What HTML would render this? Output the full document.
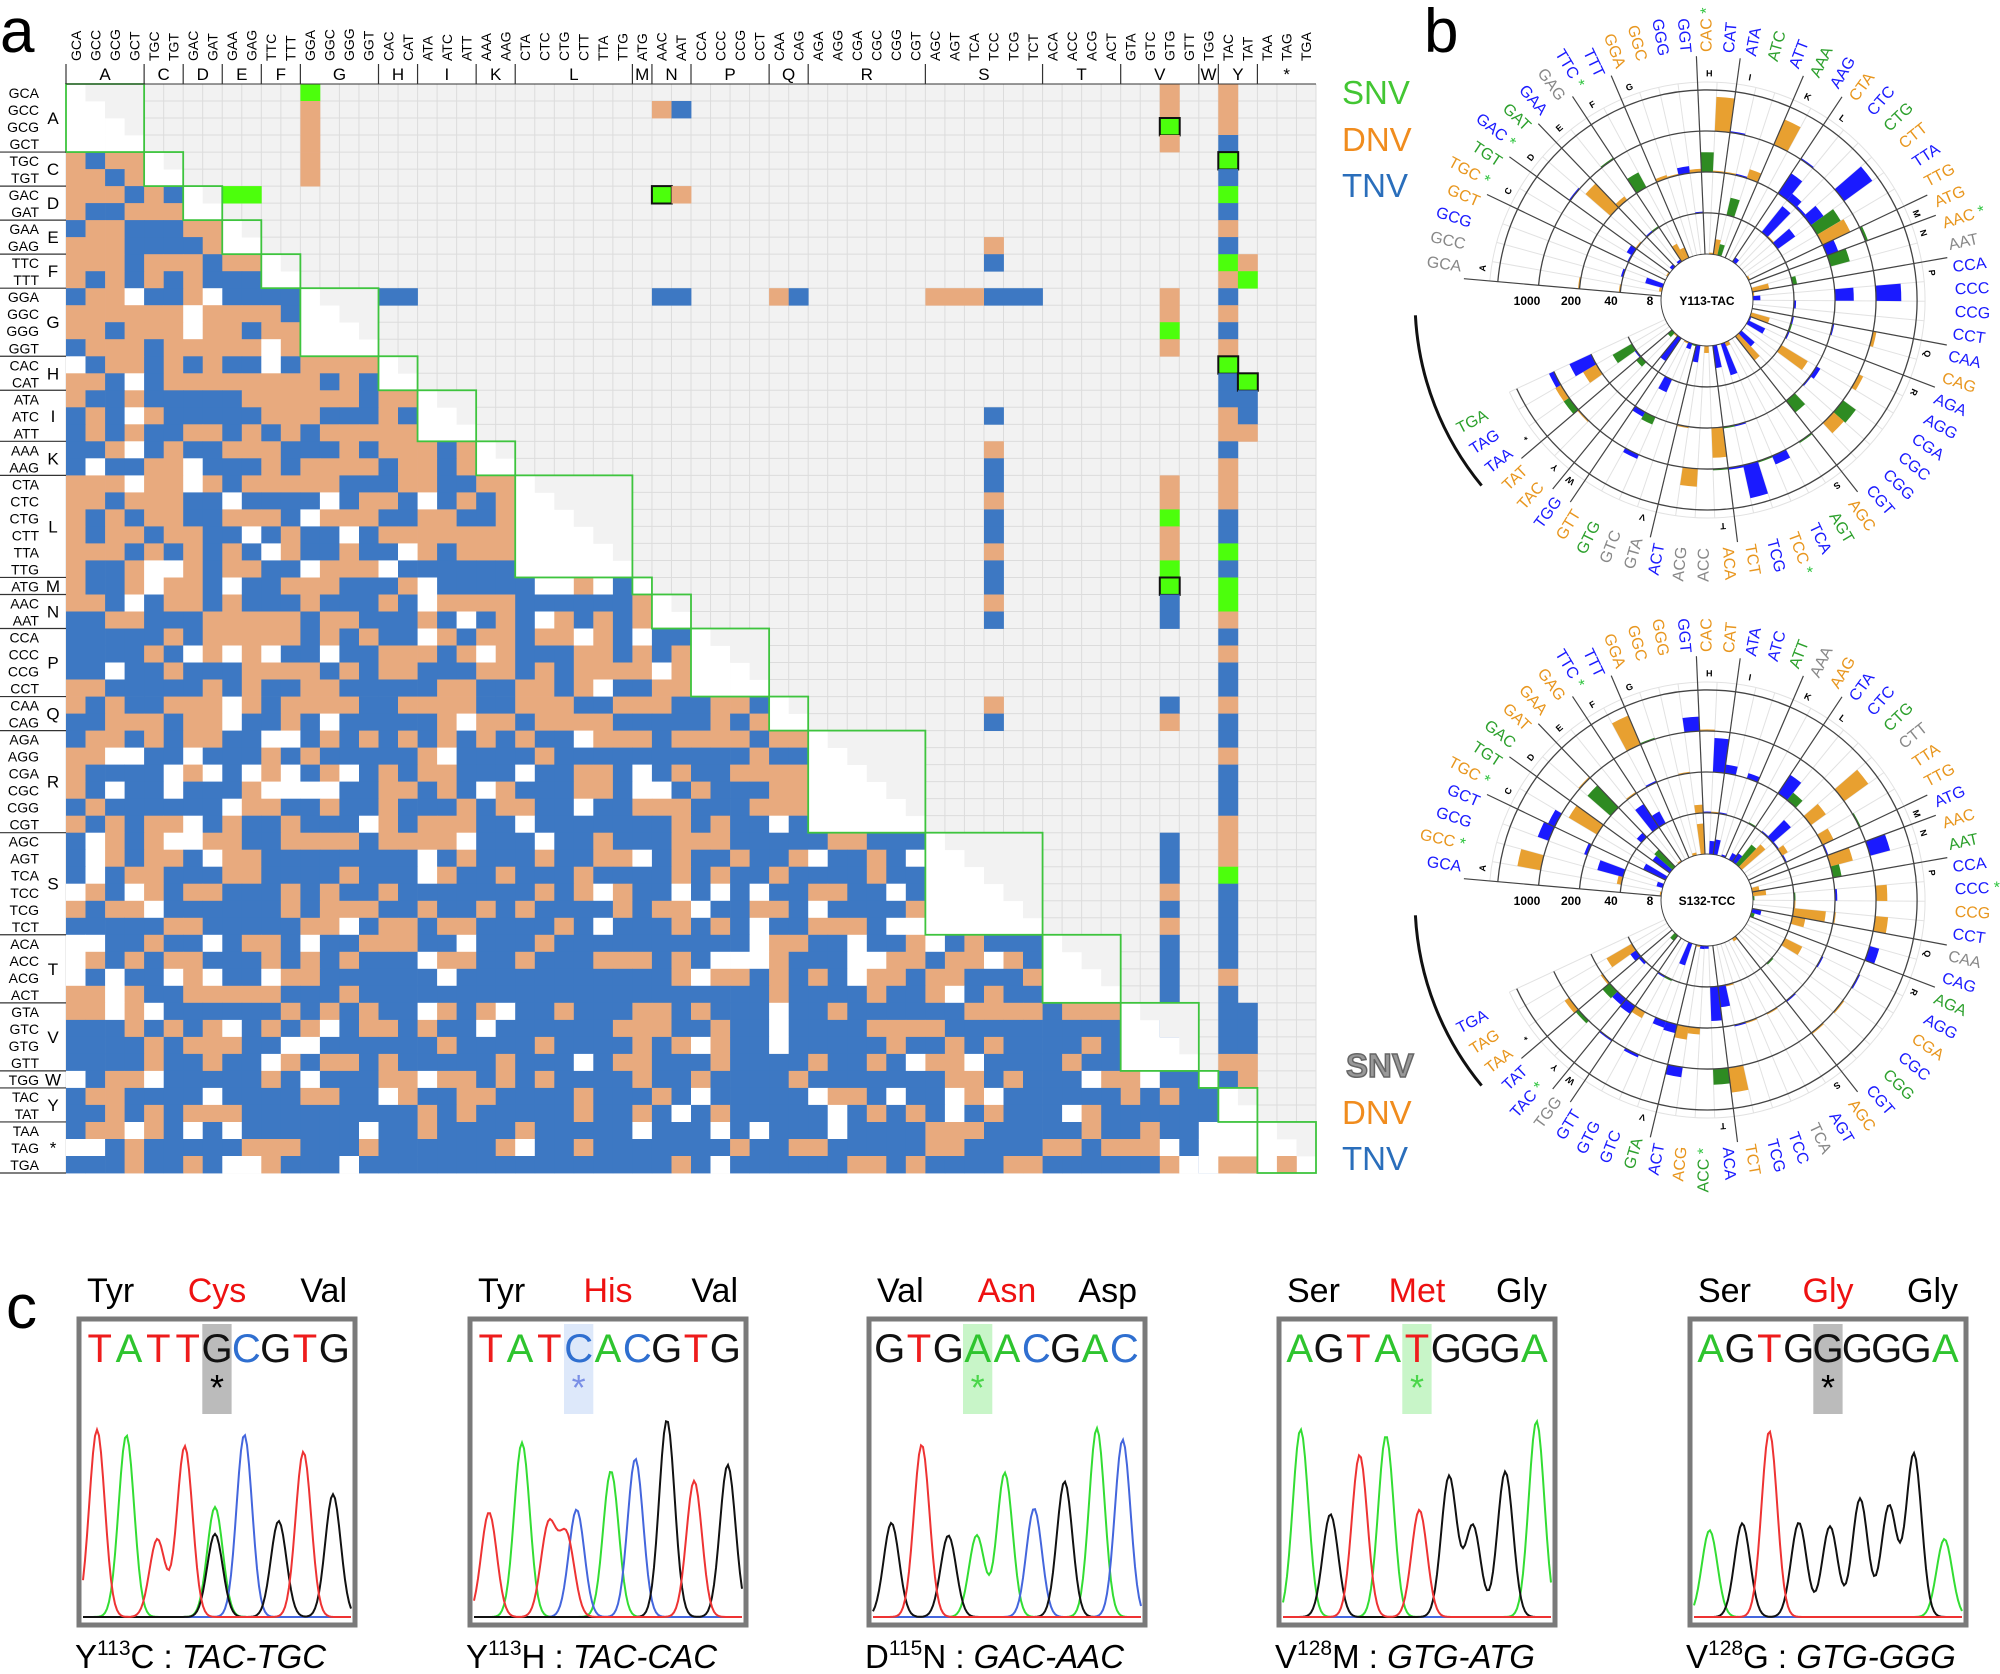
<!DOCTYPE html>
<html><head><meta charset="utf-8"><style>
html,body{margin:0;padding:0;background:#fff;}
svg{display:block;font-family:"Liberation Sans",sans-serif;}
</style></head><body>
<svg id="s" width="2000" height="1674" viewBox="0 0 2000 1674" xmlns="http://www.w3.org/2000/svg"></svg>
<script>
(function(){
var S=document.getElementById('s');var out=[];
function P(x){out.push(x);}
var seed=12345;function rnd(){seed=(seed*1103515245+12345)&0x7fffffff;return seed/0x7fffffff;}
var groups=[['A',['GCA','GCC','GCG','GCT']],['C',['TGC','TGT']],['D',['GAC','GAT']],['E',['GAA','GAG']],['F',['TTC','TTT']],['G',['GGA','GGC','GGG','GGT']],['H',['CAC','CAT']],['I',['ATA','ATC','ATT']],['K',['AAA','AAG']],['L',['CTA','CTC','CTG','CTT','TTA','TTG']],['M',['ATG']],['N',['AAC','AAT']],['P',['CCA','CCC','CCG','CCT']],['Q',['CAA','CAG']],['R',['AGA','AGG','CGA','CGC','CGG','CGT']],['S',['AGC','AGT','TCA','TCC','TCG','TCT']],['T',['ACA','ACC','ACG','ACT']],['V',['GTA','GTC','GTG','GTT']],['W',['TGG']],['Y',['TAC','TAT']],['*',['TAA','TAG','TGA']]];
var cod=[],grp=[],gs=[];
groups.forEach(function(g,gi){gs.push(cod.length);g[1].forEach(function(c){cod.push(c);grp.push(gi);});});
var N=64,X0=66,Y0=84,CW=1250/64,RH=1089/64;
var OR='#e8aa7e',BL='#3d78c3',GR='#4cff0c';
P('<rect x="'+X0+'" y="'+Y0+'" width="1250" height="1089" fill="#f2f2f2"/>');
for(var i=0;i<=N;i++){P('<line x1="'+(X0+i*CW)+'" y1="'+Y0+'" x2="'+(X0+i*CW)+'" y2="'+(Y0+1089)+'" stroke="#dcdcdc" stroke-width="1"/>');
P('<line x1="'+X0+'" y1="'+(Y0+i*RH)+'" x2="'+(X0+1250)+'" y2="'+(Y0+i*RH)+'" stroke="#dcdcdc" stroke-width="1"/>');}
function cell(r,c,col,box){P('<rect x="'+(X0+c*CW).toFixed(1)+'" y="'+(Y0+r*RH).toFixed(1)+'" width="'+(CW+0.4).toFixed(1)+'" height="'+(RH+0.4).toFixed(1)+'" fill="'+col+'"'+(box?' stroke="#111" stroke-width="2"':'')+'/>');}
for(var r=0;r<N;r++)for(var c=0;c<N;c++){
 if(grp[r]==grp[c]){ if(c<=r) cell(r,c,'#fff'); continue;}
 if(r>c){var v=rnd();var pb=0.25+0.45*r/N;cell(r,c,v<0.09?'#fff':(v<0.09+pb?BL:OR));}
}
function U(r,c,col,b){cell(r,c,col,b);}
U(0,12,GR);for(var k=1;k<=5;k++)U(k,12,OR);
U(1,30,OR);U(1,31,BL);U(6,8,GR);U(6,9,GR);U(6,30,GR,1);U(6,31,OR);
U(12,16,BL);U(12,17,BL);U(12,30,BL);U(12,31,BL);U(12,36,OR);U(12,37,BL);U(12,44,OR);U(12,45,OR);U(12,46,OR);U(12,47,BL);U(12,48,BL);U(12,49,BL);
[9,10,19,21,22,23,24,25,26,27,28,29,30,31,36,37].forEach(function(r){if(r<47)U(r,47,(r%3==0)?OR:BL);});
var g56={0:OR,1:OR,2:'G',3:OR,12:OR,13:OR,14:GR,15:OR,23:OR,24:OR,25:GR,26:OR,27:OR,28:GR,29:'G',30:BL,31:BL,36:BL,37:OR};
for(var r=44;r<56;r++)g56[r]=(r==47||r==49)?OR:BL;
for(var k in g56){var v=g56[k];if(v=='G')U(+k,56,GR,1);else U(+k,56,v);}
var t59={4:'G',6:GR,10:GR,16:'G',27:GR,29:GR,30:GR,46:GR};
for(var r=0;r<59;r++){var v=t59[r];if(v=='G')U(r,59,GR,1);else if(v)U(r,59,v);else U(r,59,(rnd()<0.45)?OR:BL);}
U(10,60,OR);U(11,60,GR);U(17,60,GR,1);U(18,60,BL);U(19,60,BL);U(20,60,OR);U(54,60,BL);U(55,60,BL);U(56,60,BL);U(57,60,OR);U(58,60,OR);
U(63,58,'#fff');U(63,59,OR);U(63,60,OR);U(63,62,OR);U(61,59,'#fff');U(62,59,'#fff');U(61,60,'#fff');U(62,60,'#fff');U(61,58,'#fff');U(62,58,'#fff');
groups.forEach(function(g,gi){var s=gs[gi],n=g[1].length;
 for(var r=0;r<n;r++)for(var c=r+1;c<n;c++)cell(s+r,s+c,'#f2f2f2');
 P('<rect x="'+(X0+s*CW)+'" y="'+(Y0+s*RH)+'" width="'+(n*CW)+'" height="'+(n*RH)+'" fill="none" stroke="#3ec43e" stroke-width="1.8"/>');
 var xm=X0+(s+n/2)*CW;P('<text x="'+xm+'" y="80" font-size="17" text-anchor="middle">'+g[0]+'</text>');
 P('<line x1="'+(X0+s*CW)+'" y1="64" x2="'+(X0+s*CW)+'" y2="84" stroke="#333" stroke-width="1.2"/>');
 var ym=Y0+(s+n/2)*RH;P('<text x="53" y="'+(ym+6)+'" font-size="17" text-anchor="middle">'+g[0]+'</text>');
 P('<line x1="0" y1="'+(Y0+(s+n)*RH)+'" x2="66" y2="'+(Y0+(s+n)*RH)+'" stroke="#333" stroke-width="1.2"/>');
});
P('<line x1="66" y1="84" x2="1316" y2="84" stroke="#333" stroke-width="1"/>');
for(var i=0;i<N;i++){
 P('<text x="'+(X0+i*CW+CW/2+5)+'" y="61" font-size="14" transform="rotate(-90 '+(X0+i*CW+CW/2+5)+' 61)">'+cod[i]+'</text>');
 P('<text x="39" y="'+(Y0+i*RH+RH-3)+'" font-size="14" text-anchor="end">'+cod[i]+'</text>');
}
P('<text x="0" y="52" font-size="62">a</text>');
P('<text x="1424" y="52" font-size="62">b</text>');
P('<text x="6" y="1328" font-size="62">c</text>');
P('<text x="1342" y="104" font-size="33" fill="#43c633">SNV</text><text x="1342" y="151" font-size="33" fill="#f08c1e">DNV</text><text x="1342" y="197" font-size="33" fill="#2a6ebb">TNV</text>');
P('<text x="1346" y="1077" font-size="33" font-weight="bold" fill="#999" stroke="#666" stroke-width="1.5">SNV</text><text x="1342" y="1124" font-size="33" fill="#f08c1e">DNV</text><text x="1342" y="1170" font-size="33" fill="#2a6ebb">TNV</text>');
function circ(cx,cy,title,star){
 var r0=46,bw=41,st=185,span=330,step=span/64,rad=Math.PI/180;
 function pt(r,a){return [(cx+r*Math.cos(a*rad)).toFixed(1),(cy+r*Math.sin(a*rad)).toFixed(1)];}
 for(var i=0;i<=64;i++){var a=st+i*step;var p1=pt(r0,a),p2=pt(r0+4*bw+8,a);P('<line x1="'+p1[0]+'" y1="'+p1[1]+'" x2="'+p2[0]+'" y2="'+p2[1]+'" stroke="#e2e2e2" stroke-width="1"/>');}
 function arc(r,a1,a2,col,w){var p1=pt(r,a1),p2=pt(r,a2);P('<path d="M'+p1[0]+' '+p1[1]+' A'+r+' '+r+' 0 '+((a2-a1)>180?1:0)+' 1 '+p2[0]+' '+p2[1]+'" fill="none" stroke="'+col+'" stroke-width="'+w+'"/>');}
 arc(r0+4*bw+8,st,st+span,'#e2e2e2',1);
 for(var i=0;i<64;i++){
  var a1=st+i*step,a2=a1+step;
  for(var b=0;b<4;b++){var v=rnd();if(v<0.6)continue;var h=Math.pow(rnd(),2.5)*bw*0.85;if(h<1.5)h=1.5;
   var col=rnd();col=col<0.5?'#1a1aff':(col<0.85?'#e8a030':'#2e8b22');
   var ri=r0+b*bw,ro=ri+h;var p1=pt(ri,a1),p2=pt(ro,a1),p3=pt(ro,a2),p4=pt(ri,a2);
   P('<path d="M'+p1+' L'+p2+' A'+ro+' '+ro+' 0 0 1 '+p3+' L'+p4+' A'+ri+' '+ri+' 0 0 0 '+p1+'Z" fill="'+col+'"/>');}
 }
 for(var b=1;b<=3;b++)arc(r0+b*bw,st,st+span,'#444',1.3);
 arc(r0+4*bw,st,st+span,'#444',1.3);
 P('<circle cx="'+cx+'" cy="'+cy+'" r="'+r0+'" fill="#fff" stroke="#444" stroke-width="1"/>');
 P('<text x="'+cx+'" y="'+(cy+5)+'" font-size="12" font-weight="bold" text-anchor="middle">'+title+'</text>');
 [['1000',cx-180],['200',cx-136],['40',cx-96],['8',cx-57]].forEach(function(t){P('<text x="'+t[1]+'" y="'+(cy+5)+'" font-size="12" font-weight="bold" text-anchor="middle">'+t[0]+'</text>');});
 groups.forEach(function(g,gi){var a=st+gs[gi]*step;var p1=pt(r0,a),p2=pt(r0+4*bw+34,a);P('<line x1="'+p1[0]+'" y1="'+p1[1]+'" x2="'+p2[0]+'" y2="'+p2[1]+'" stroke="#444" stroke-width="1.2"/>');
  var am=a+step*0.6;var pl=pt(r0+4*bw+16,am);P('<text x="'+pl[0]+'" y="'+pl[1]+'" font-size="9" font-weight="bold" text-anchor="middle" dominant-baseline="middle" transform="rotate('+(am+90)+' '+pl[0]+' '+pl[1]+')">'+g[0]+'</text>');});
 for(var i=0;i<64;i++){var a=st+(i+0.5)*step;var na=((a%360)+360)%360;var p=pt(r0+4*bw+38,a);var col=rnd();col=col<0.45?'#1a1aff':(col<0.8?'#e8961e':(col<0.9?'#888':'#2ca02c'));
  var left=(na>90&&na<270);var rot=left?na+180:na;
  P('<text x="'+p[0]+'" y="'+p[1]+'" font-size="16" fill="'+col+'" text-anchor="'+(left?'end':'start')+'" dominant-baseline="middle" transform="rotate('+rot.toFixed(1)+' '+p[0]+' '+p[1]+')">'+cod[i]+(star.indexOf(i)>=0?' <tspan fill="#2ec43e">*</tspan>':'')+'</text>');}
 var a1=st+61*step-3,a2=st+64*step+10;arc(r0+4*bw+82,a1+4,a2+12,'#111',3);
}
circ(1707,300,'Y113-TAC',[4,6,10,16,30,47]);
circ(1707,900,'S132-TCC',[1,4,10,33,51,59]);
var chrom=[
 [79,'Tyr','Cys','Val','TATTGCGTG',4,'#bbb','#000','Y','C',' : ','TAC','-','TGC'],
 [470,'Tyr','His','Val','TATCACGTG',3,'#dde8fa','#7a8fe6','Y','H',' : ','TAC','-','CAC'],
 [869,'Val','Asn','Asp','GTGAACGAC',3,'#c8f5c8','#4ad64a','D','N',' : ','GAC','-','AAC'],
 [1279,'Ser','Met','Gly','AGTATGGGA',4,'#c8f5c8','#4ad64a','V','M',' : ','GTG','-','ATG'],
 [1690,'Ser','Gly','Gly','AGTGGGGGA',4,'#bbb','#000','V','G',' : ','GTG','-','GGG']];
var BC={A:'#2ec42e',C:'#2f6fd0',G:'#111',T:'#ee1c1c'};
var TC={A:'#33dd33',C:'#4466dd',G:'#111',T:'#ee3333'};
var nums=['113','113','115','128','128'];
chrom.forEach(function(c,ci){var x=c[0],y=1319,w=276,h=306;
 P('<text x="'+(x+8)+'" y="1302" font-size="34">'+c[1]+'</text><text x="'+(x+w/2)+'" y="1302" font-size="34" fill="#ee1111" text-anchor="middle">'+c[2]+'</text><text x="'+(x+w-8)+'" y="1302" font-size="34" text-anchor="end">'+c[3]+'</text>');
 var sx=x+6,sp=(w-12)/9;
 P('<rect x="'+(sx+c[5]*sp).toFixed(1)+'" y="'+(y+5)+'" width="'+sp.toFixed(1)+'" height="90" fill="'+c[6]+'"/>');
 P('<text x="'+(sx+(c[5]+0.5)*sp)+'" y="1400" font-size="36" fill="'+c[7]+'" text-anchor="middle">*</text>');
 for(var i=0;i<9;i++){var b=c[4][i];P('<text x="'+(sx+(i+0.5)*sp).toFixed(1)+'" y="1362" font-size="40" fill="'+BC[b]+'" text-anchor="middle">'+b+'</text>');}
 var base=y+h-8,peaks=[];
 for(var i=0;i<9;i++){peaks.push([c[4][i],sx+(i+0.5)*sp+(rnd()-0.5)*6,70+rnd()*130]);}
 if(ci==0)peaks.push(['A',sx+4.5*sp-2,110]);
 if(ci==1)peaks.push(['T',sx+3.5*sp-12,80]);
 ['A','C','G','T'].forEach(function(b){var d='';for(var xx=x+4;xx<=x+w-4;xx+=2){var v=0;peaks.forEach(function(p){if(p[0]==b)v+=p[2]*Math.exp(-Math.pow((xx-p[1])/11,2));});d+=(d?'L':'M')+xx+' '+(base-v).toFixed(1);}
  P('<path d="'+d+'" fill="none" stroke="'+TC[b]+'" stroke-width="2"/>');});
 P('<rect x="'+x+'" y="'+y+'" width="'+w+'" height="'+h+'" fill="none" stroke="#7a7a7a" stroke-width="5"/>');
 P('<text x="'+(x-4)+'" y="1668" font-size="33">'+c[8]+'<tspan font-size="21" dy="-13">'+nums[ci]+'</tspan><tspan dy="13">'+c[9]+c[10]+'</tspan><tspan font-style="italic">'+c[11]+c[12]+c[13]+'</tspan></text>');
});
S.innerHTML=out.join('');
})();
</script>
</body></html>
